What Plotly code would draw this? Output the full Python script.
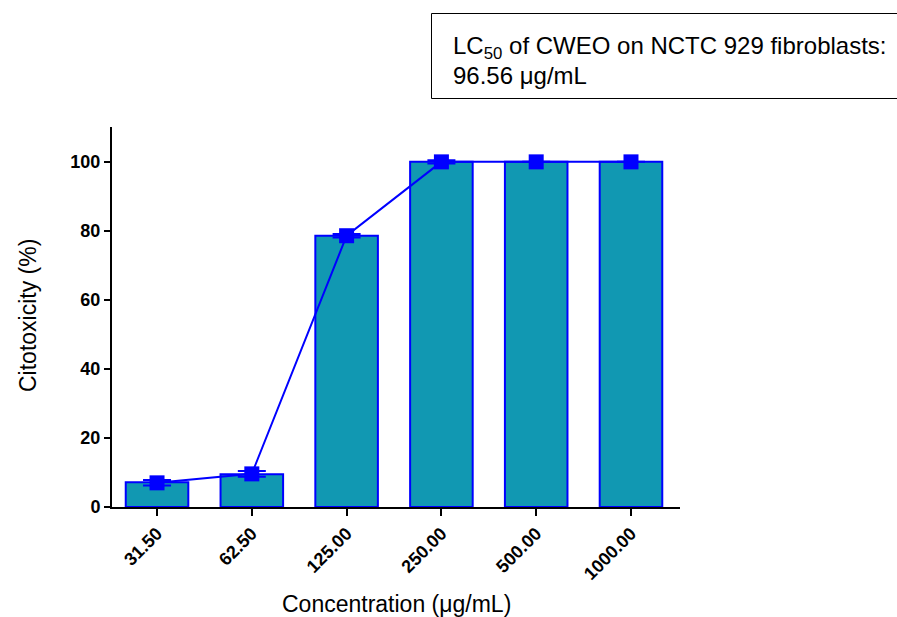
import plotly.graph_objects as go

categories = ["31.50", "62.50", "125.00", "250.00", "500.00", "1000.00"]
bar_values = [7.2, 9.5, 78.6, 100.0, 100.0, 100.0]
line_values = [7.0, 9.6, 78.6, 100.0, 100.0, 100.0]
error_values = [0.8, 0.8, 0.5, 0.5, 0.0, 0.0]
y_ticks = [0, 20, 40, 60, 80, 100]

L, R, T, B = 112, 680, 127, 507
W, H = 897, 617

def px(x):
    return (x - L) / (R - L)

def py(y):
    return (B - y) / (B - T)

fig = go.Figure()
fig.add_trace(go.Bar(
    x=list(range(len(categories))), y=bar_values, width=0.66,
    marker=dict(color="#1198B2", line=dict(color="#0000FF", width=2)),
    showlegend=False,
))
fig.add_trace(go.Scatter(
    x=list(range(len(categories))), y=line_values, mode="lines+markers",
    line=dict(color="#0000FF", width=2),
    marker=dict(symbol="square", size=15, color="#0000FF"),
    error_y=dict(type="data", array=error_values, color="#0000FF", thickness=2, width=14),
    showlegend=False,
))

font_family = "Arial, Liberation Sans, sans-serif"
fig.update_layout(
    width=W, height=H,
    margin=dict(l=L, r=W - R, t=T, b=H - B),
    paper_bgcolor="white", plot_bgcolor="white",
    font=dict(family=font_family, color="black"),
    xaxis=dict(
        range=[-0.475, 5.517], automargin=False,
        tickmode="array", tickvals=list(range(len(categories))), ticktext=categories,
        tickangle=-45, ticks="outside", ticklen=7, tickwidth=2, tickcolor="black",
        showline=True, linecolor="black", linewidth=2, showgrid=False, zeroline=False,
        tickfont=dict(size=18, family=font_family, weight="bold"),
    ),
    yaxis=dict(
        range=[0, 110.1], automargin=False,
        tickmode="array", tickvals=y_ticks,
        ticks="outside", ticklen=6, tickwidth=2, tickcolor="black",
        showline=True, linecolor="black", linewidth=2, showgrid=False, zeroline=False,
        tickfont=dict(size=18, family=font_family, weight="bold"),
    ),
    shapes=[dict(
        type="rect", xref="paper", yref="paper",
        x0=px(431.5), x1=px(898), y0=py(98.5), y1=py(13.5),
        line=dict(color="black", width=1), fillcolor="white",
    )],
    annotations=[
        dict(xref="paper", yref="paper", x=px(451), y=py(47), xanchor="left", yanchor="middle",
             text="LC<sub>50</sub> of CWEO on NCTC 929 fibroblasts:",
             showarrow=False, font=dict(size=24, family=font_family)),
        dict(xref="paper", yref="paper", x=px(451), y=py(76), xanchor="left", yanchor="middle",
             text="96.56 μg/mL",
             showarrow=False, font=dict(size=24, family=font_family)),
        dict(xref="paper", yref="paper", x=px(396), y=py(604), xanchor="center", yanchor="middle",
             text="Concentration (μg/mL)",
             showarrow=False, font=dict(size=23, family=font_family)),
        dict(xref="paper", yref="paper", x=px(28), y=py(316), xanchor="center", yanchor="middle",
             text="Citotoxicity (%)", textangle=-90,
             showarrow=False, font=dict(size=23, family=font_family)),
    ],
)

fig.write_html("out.html")
